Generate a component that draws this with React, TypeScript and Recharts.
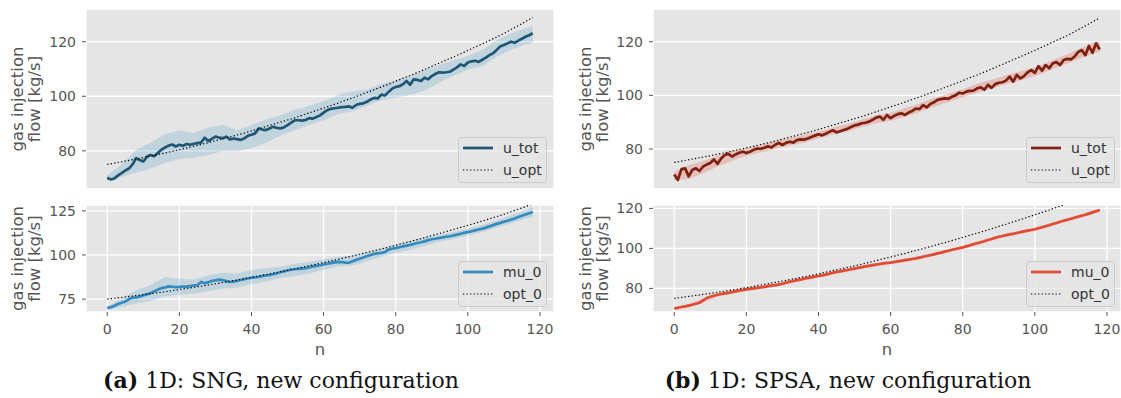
import React from 'react';
import { ComposedChart, Line, Area, XAxis, YAxis, CartesianGrid } from 'recharts';

// x positions (iteration n)
const nValues = [
  0, 1, 2, 3, 4, 5, 6, 7, 8, 9, 10, 11, 12, 13, 14, 15, 16, 17, 18, 19,
  20, 21, 22, 23, 24, 25, 26, 27, 28, 29, 30, 31, 32, 33, 34, 35, 36, 37, 38, 39,
  40, 41, 42, 43, 44, 45, 46, 47, 48, 49, 50, 51, 52, 53, 54, 55, 56, 57, 58, 59,
  60, 61, 62, 63, 64, 65, 66, 67, 68, 69, 70, 71, 72, 73, 74, 75, 76, 77, 78, 79,
  80, 81, 82, 83, 84, 85, 86, 87, 88, 89, 90, 91, 92, 93, 94, 95, 96, 97, 98, 99,
  100, 101, 102, 103, 104, 105, 106, 107, 108, 109, 110, 111, 112, 113, 114, 115, 116, 117, 118,
];

// (a) SNG – u_tot
const sngTot = [
  70.1, 69.5, 69.9, 71.0, 71.8, 72.8, 73.5, 75.0, 77.3, 76.6,
  76.1, 77.8, 78.5, 78.0, 79.2, 80.4, 81.2, 81.9, 82.3, 81.6,
  82.2, 81.8, 82.5, 82.2, 82.6, 82.8, 83.0, 84.8, 83.6, 84.4,
  85.2, 84.9, 84.6, 85.2, 84.2, 84.5, 84.3, 84.0, 84.6, 85.5,
  85.9, 86.4, 88.2, 87.8, 87.6, 88.2, 88.8, 88.4, 88.2, 88.6,
  89.4, 90.3, 91.2, 91.2, 91.1, 91.3, 92.0, 91.8, 92.4, 93.0,
  94.0, 94.9, 95.4, 95.6, 95.8, 96.0, 96.1, 96.3, 95.8, 96.8,
  97.2, 97.4, 98.0, 98.8, 99.4, 99.2, 100.6, 100.3, 101.6, 102.8,
  103.4, 103.7, 104.4, 105.6, 104.2, 106.2, 106.0, 105.6, 106.8, 106.2,
  107.4, 108.2, 108.8, 108.7, 108.8, 109.0, 109.8, 110.6, 111.7, 111.1,
  112.4, 112.8, 113.0, 112.6, 113.4, 114.2, 115.1, 115.8, 117.0, 118.3,
  118.8, 119.4, 120.0, 119.6, 120.4, 121.1, 121.8, 122.4, 123.1,
];

// (a) SNG – mu_0
const sngMu = [
  70.0, 70.4, 71.3, 72.2, 72.9, 73.6, 75.0, 75.8, 76.0, 76.4,
  77.0, 77.7, 78.4, 79.3, 80.4, 81.2, 81.6, 82.2, 82.0, 81.8,
  81.9, 82.1, 82.1, 82.4, 82.7, 83.0, 84.7, 84.0, 84.6, 85.3,
  85.6, 86.0, 85.8, 85.2, 84.7, 84.9, 85.3, 85.8, 86.3, 86.7,
  87.1, 87.3, 87.6, 88.0, 88.4, 88.6, 89.1, 89.6, 90.2, 90.7,
  91.2, 91.7, 91.9, 92.1, 92.3, 92.5, 93.0, 93.5, 93.8, 94.2,
  94.6, 95.0, 95.4, 95.8, 96.1, 96.0, 95.7, 95.6, 96.4, 97.2,
  97.9, 98.6, 99.3, 100.0, 100.6, 100.9, 101.2, 101.6, 103.0, 103.5,
  103.9, 104.4, 104.9, 105.3, 105.7, 106.2, 106.8, 107.2, 107.7, 108.4,
  108.9, 109.2, 109.6, 110.0, 110.3, 110.6, 111.0, 111.5, 112.0, 112.5,
  113.0, 113.4, 113.9, 114.4, 114.9, 115.5, 116.2, 116.9, 117.6, 118.2,
  118.8, 119.4, 120.0, 120.7, 121.5, 122.2, 122.9, 123.6, 124.3,
];

// (b) SPSA – u_tot
const spsaTot = [
  70.5, 68.5, 72.5, 72.8, 69.8, 72.2, 72.8, 71.8, 73.5, 74.2,
  74.8, 76.1, 74.5, 76.5, 77.8, 78.2, 77.2, 78.0, 78.6, 79.0,
  78.5, 79.0, 79.7, 80.2, 80.1, 80.5, 81.0, 80.6, 81.6, 82.3,
  81.5, 82.3, 82.7, 82.4, 83.3, 83.6, 83.5, 83.9, 84.5, 85.0,
  85.5, 85.1, 85.7, 86.4, 87.0, 86.2, 86.6, 87.1, 87.5, 88.2,
  88.8, 89.1, 89.6, 89.8, 90.2, 90.9, 91.7, 92.1, 90.9, 92.7,
  91.5, 92.4, 93.0, 93.3, 92.7, 93.6, 94.2, 95.1, 94.9, 96.4,
  95.5, 96.8, 97.4, 98.3, 98.6, 98.9, 98.7, 99.5, 100.0, 101.0,
  100.7, 101.4, 101.7, 101.8, 102.6, 103.0, 102.1, 103.9, 102.8, 104.2,
  104.7, 104.9, 105.5, 107.0, 105.1, 107.6, 106.3, 107.2, 108.6, 109.4,
  108.4, 110.9, 109.2, 111.3, 110.1, 112.0, 112.4, 111.3, 113.2, 113.6,
  113.4, 114.4, 116.1, 116.9, 115.0, 118.4, 115.9, 119.4, 117.1,
];

// (b) SPSA – mu_0
const spsaMu = [
  70.0, 70.3, 70.7, 71.0, 71.4, 71.8, 72.3, 72.8, 74.0, 75.2,
  75.8, 76.3, 76.8, 77.2, 77.5, 77.8, 78.1, 78.5, 78.9, 79.2,
  79.5, 79.8, 80.0, 80.3, 80.5, 80.8, 81.1, 81.4, 81.6, 81.9,
  82.3, 82.8, 83.3, 83.7, 84.1, 84.4, 84.8, 85.2, 85.5, 85.9,
  86.2, 86.5, 86.9, 87.3, 87.8, 88.2, 88.5, 88.9, 89.2, 89.6,
  89.9, 90.3, 90.6, 91.0, 91.3, 91.6, 91.9, 92.2, 92.5, 92.7,
  92.9, 93.2, 93.5, 93.8, 94.1, 94.4, 94.7, 95.0, 95.4, 95.8,
  96.2, 96.6, 97.0, 97.5, 97.9, 98.4, 98.8, 99.3, 99.7, 100.1,
  100.5, 101.0, 101.5, 102.1, 102.6, 103.1, 103.6, 104.2, 104.7, 105.3,
  105.8, 106.2, 106.6, 107.0, 107.3, 107.7, 108.1, 108.5, 108.9, 109.2,
  109.6, 110.1, 110.6, 111.1, 111.6, 112.2, 112.7, 113.3, 113.8, 114.3,
  114.8, 115.3, 115.8, 116.3, 116.8, 117.4, 118.0, 118.6, 119.2,
];

// optimum (dotted) – read every 2 iterations
const optN = [
  0, 2, 4, 6, 8, 10, 12, 14, 16, 18, 20, 22, 24, 26, 28, 30, 32, 34, 36, 38,
  40, 42, 44, 46, 48, 50, 52, 54, 56, 58, 60, 62, 64, 66, 68, 70, 72, 74, 76, 78,
  80, 82, 84, 86, 88, 90, 92, 94, 96, 98, 100, 102, 104, 106, 108, 110, 112, 114, 116, 118,
];
const optValues = [
  75.0, 75.5, 76.0, 76.5, 77.0, 77.5, 78.1, 78.6, 79.2, 79.8,
  80.4, 81.0, 81.7, 82.3, 83.0, 83.7, 84.4, 85.1, 85.8, 86.5,
  87.3, 88.1, 88.9, 89.7, 90.5, 91.3, 92.1, 93.0, 93.9, 94.8,
  95.7, 96.6, 97.5, 98.5, 99.4, 100.4, 101.4, 102.4, 103.4, 104.4,
  105.5, 106.6, 107.6, 108.7, 109.8, 111.0, 112.1, 113.3, 114.4, 115.6,
  116.8, 118.0, 119.2, 120.5, 121.7, 123.0, 124.5, 125.9, 127.4, 128.9,
];

// confidence bands – read every 4 iterations
const bandN = [0, 4, 8, 12, 16, 20, 24, 28, 32, 36, 40, 44, 48, 52, 56, 60, 64, 68, 72, 76, 80, 84, 88, 92, 96, 100, 104, 108, 112, 116, 118];
const sngTotLow = [69, 70.5, 72, 73.5, 75.5, 77, 77.5, 78.5, 79.8, 79.8, 81, 83, 85.5, 87.5, 89.5, 91.2, 93.5, 94.5, 96.5, 98.5, 99.5, 100.5, 102, 105, 107.5, 109.8, 111, 114.5, 117, 119, 119.6];
const sngTotHigh = [71, 75, 80.5, 83, 86, 87.5, 86.5, 88.5, 89.5, 87.5, 89.5, 91.5, 93, 95, 96.5, 98.2, 100.5, 101.8, 102.5, 104.5, 106, 107.6, 109.6, 111.5, 113.2, 114.8, 117, 120.5, 123, 125, 125.8];
const sngMuLow = [69, 70.5, 72.5, 74, 76.5, 77.5, 78, 79.5, 81, 81.5, 83.5, 85, 87, 88, 89.5, 91.5, 93.5, 94, 96.5, 99, 101, 103, 105, 107.5, 109, 111, 113, 115.5, 118, 120.5, 121.5];
const sngMuHigh = [71, 75.5, 80, 83, 87.5, 86.5, 86, 88.5, 90, 89.5, 91.5, 92.5, 93.5, 95, 96, 97.5, 99, 99.5, 101.5, 103.5, 106, 108, 110, 111.5, 113, 115, 117, 119.5, 122.5, 125.5, 127];
const spsaTotLow = [68.5, 68.8, 71, 73.5, 75.5, 77.5, 78.7, 80, 81.3, 82.3, 84, 85.3, 86.5, 88.2, 89.6, 90.5, 92, 93.8, 95.8, 97.5, 99.3, 101, 102.5, 104.2, 105.5, 107.2, 109.3, 111.3, 113.5, 115.5, 116.3];
const spsaTotHigh = [71.5, 74, 75.5, 77.5, 79.5, 80.3, 81.5, 83, 84, 85.2, 86.5, 88, 89.2, 91, 92.6, 93.5, 95.2, 97, 99, 100.5, 102.3, 104.3, 105.8, 107.5, 109, 110.5, 112.5, 114.8, 117.2, 119.5, 120.3];
const spsaMuLow = [69.4, 70.6, 73.0, 76.0, 77.3, 78.7, 79.7, 80.8, 82.5, 84.0, 85.4, 87.0, 88.4, 89.8, 91.1, 92.1, 93.3, 94.6, 96.2, 98.0, 99.7, 101.8, 103.9, 105.8, 107.3, 108.8, 110.8, 113.0, 115.0, 117.2, 118.4];
const spsaMuHigh = [70.6, 72.2, 75.0, 77.6, 78.9, 80.3, 81.3, 82.4, 84.1, 85.6, 87.0, 88.6, 90.0, 91.4, 92.7, 93.7, 94.9, 96.2, 97.8, 99.6, 101.3, 103.4, 105.5, 107.4, 108.9, 110.4, 112.4, 114.6, 116.6, 118.8, 120.0];

const xTicks = [0, 20, 40, 60, 80, 100, 120];
const FONT = 'DejaVu Sans';

function buildRows(main: number[], low: number[], high: number[]) {
  const rows: any[] = nValues.map((n, i) => ({ n, main: main[i] }));
  optN.forEach((n, i) => {
    rows[n].opt = optValues[i];
  });
  bandN.forEach((n, i) => {
    rows[n].band = [low[i], high[i]];
  });
  return rows;
}

type PanelProps = {
  left: number;
  top: number;
  width: number;
  height: number;
  marginTop: number;
  xAxisHeight: number;
  showXLabels: boolean;
  rows: any[];
  color: string;
  bandColor: string;
  bandOpacity: number;
  yDomain: [number, number];
  yTicks: number[];
};

function Panel(p: PanelProps) {
  return (
    <div style={{ position: 'absolute', left: p.left, top: p.top }}>
      <ComposedChart
        width={p.width}
        height={p.height}
        data={p.rows}
        margin={{ top: p.marginTop, right: p.width - 86 - 468, bottom: 0, left: 0 }}
      >
        <CartesianGrid stroke="#ffffff" strokeWidth={1.3} fill="#E5E5E5" fillOpacity={1} />
        <XAxis
          type="number"
          dataKey="n"
          domain={[-5.9, 123.9]}
          ticks={xTicks}
          interval={0}
          allowDataOverflow
          height={p.xAxisHeight}
          axisLine={false}
          tickLine={{ stroke: '#555555', strokeWidth: 1 }}
          tickSize={4}
          tickMargin={8}
          tick={p.showXLabels ? { fill: '#555555', fontSize: 14, fontFamily: FONT } : false}
        />
        <YAxis
          type="number"
          domain={p.yDomain}
          ticks={p.yTicks}
          interval={0}
          allowDataOverflow
          width={86}
          axisLine={false}
          tickLine={{ stroke: '#555555', strokeWidth: 1 }}
          tickSize={4}
          tickMargin={6}
          tick={{ fill: '#555555', fontSize: 14, fontFamily: FONT }}
        />
        <Area
          dataKey="band"
          type="linear"
          stroke="none"
          fill={p.bandColor}
          fillOpacity={p.bandOpacity}
          connectNulls
          isAnimationActive={false}
          activeDot={false}
          dot={false}
        />
        <Line
          dataKey="main"
          type="linear"
          stroke={p.color}
          strokeWidth={2.7}
          strokeLinejoin="round"
          dot={false}
          activeDot={false}
          isAnimationActive={false}
        />
        <Line
          dataKey="opt"
          type="linear"
          stroke="#000000"
          strokeWidth={1.2}
          strokeDasharray="1.3 2.2"
          dot={false}
          activeDot={false}
          connectNulls
          isAnimationActive={false}
        />
      </ComposedChart>
    </div>
  );
}

function LegendBox(props: { left: number; top: number; color: string; mainLabel: string; optLabel: string }) {
  const { left, top, color, mainLabel, optLabel } = props;
  return (
    <div
      style={{
        position: 'absolute',
        left,
        top,
        width: 89,
        height: 46,
        boxSizing: 'border-box',
        border: '1px solid #cccccc',
        borderRadius: 3,
        background: 'rgba(229,229,229,0.8)',
      }}
    >
      <svg width={89} height={46} style={{ position: 'absolute', left: -1, top: -1, overflow: 'visible' }}>
        <line x1={5} x2={35} y1={11} y2={11} stroke={color} strokeWidth={2.7} />
        <line x1={5} x2={35} y1={33} y2={33} stroke="#000" strokeWidth={1.2} strokeDasharray="1.3 2.2" />
        <text x={45} y={11} dominantBaseline="central" fontFamily={FONT} fontSize={14} fill="#333333">
          {mainLabel}
        </text>
        <text x={45} y={33} dominantBaseline="central" fontFamily={FONT} fontSize={14} fill="#333333">
          {optLabel}
        </text>
      </svg>
    </div>
  );
}

function YLabel(props: { x: number; cy: number }) {
  const { x, cy } = props;
  const x2 = x + 17;
  return (
    <g fontFamily={FONT} fontSize={16.5} fill="#555555" textAnchor="middle">
      <text x={x} y={cy} transform={`rotate(-90, ${x}, ${cy})`} dominantBaseline="central">
        gas injection
      </text>
      <text x={x2} y={cy} transform={`rotate(-90, ${x2}, ${cy})`} dominantBaseline="central">
        flow [kg/s]
      </text>
    </g>
  );
}

export default function App() {
  const sngTopRows = buildRows(sngTot, sngTotLow, sngTotHigh);
  const sngBotRows = buildRows(sngMu, sngMuLow, sngMuHigh);
  const spsaTopRows = buildRows(spsaTot, spsaTotLow, spsaTotHigh);
  const spsaBotRows = buildRows(spsaMu, spsaMuLow, spsaMuHigh);

  return (
    <div style={{ position: 'absolute', left: 0, top: 0, width: 1121, height: 398, background: '#ffffff', overflow: 'hidden' }}>
      <Panel left={0} top={0} width={560} height={200} marginTop={9} xAxisHeight={11} showXLabels={false}
        rows={sngTopRows} color="#1f5675" bandColor="#348ABD" bandOpacity={0.2} yDomain={[66, 132]} yTicks={[80, 100, 120]} />
      <Panel left={0} top={197} width={560} height={163} marginTop={8} xAxisHeight={48} showXLabels={true}
        rows={sngBotRows} color="#348ABD" bandColor="#348ABD" bandOpacity={0.2} yDomain={[67.7, 128.3]} yTicks={[75, 100, 125]} />
      <Panel left={567} top={0} width={554} height={200} marginTop={9} xAxisHeight={11} showXLabels={false}
        rows={spsaTopRows} color="#7f1f10" bandColor="#E24A33" bandOpacity={0.25} yDomain={[65.1, 132.2]} yTicks={[80, 100, 120]} />
      <Panel left={567} top={197} width={554} height={163} marginTop={8} xAxisHeight={48} showXLabels={true}
        rows={spsaBotRows} color="#E24A33" bandColor="#E24A33" bandOpacity={0.25} yDomain={[68.2, 121.7]} yTicks={[80, 100, 120]} />

      <LegendBox left={458} top={137} color="#1f5675" mainLabel="u_tot" optLabel="u_opt" />
      <LegendBox left={458} top={261} color="#348ABD" mainLabel="mu_0" optLabel="opt_0" />
      <LegendBox left={1026} top={137} color="#7f1f10" mainLabel="u_tot" optLabel="u_opt" />
      <LegendBox left={1026} top={261} color="#E24A33" mainLabel="mu_0" optLabel="opt_0" />

      <svg width={1121} height={398} style={{ position: 'absolute', left: 0, top: 0, pointerEvents: 'none' }}>
        <YLabel x={17.5} cy={99} />
        <YLabel x={17.5} cy={258.5} />
        <YLabel x={585.5} cy={99} />
        <YLabel x={585.5} cy={258.5} />
        <text x={320} y={355} textAnchor="middle" fontFamily={FONT} fontSize={16.5} fill="#555555">n</text>
        <text x={887} y={355} textAnchor="middle" fontFamily={FONT} fontSize={16.5} fill="#555555">n</text>
        <text x={281} y={388} textAnchor="middle" fontFamily="DejaVu Serif" fontSize={22} fill="#111111">
          <tspan fontWeight="bold">(a)</tspan> 1D: SNG, new configuration
        </text>
        <text x={848} y={388} textAnchor="middle" fontFamily="DejaVu Serif" fontSize={22} fill="#111111">
          <tspan fontWeight="bold">(b)</tspan> 1D: SPSA, new configuration
        </text>
      </svg>
    </div>
  );
}
